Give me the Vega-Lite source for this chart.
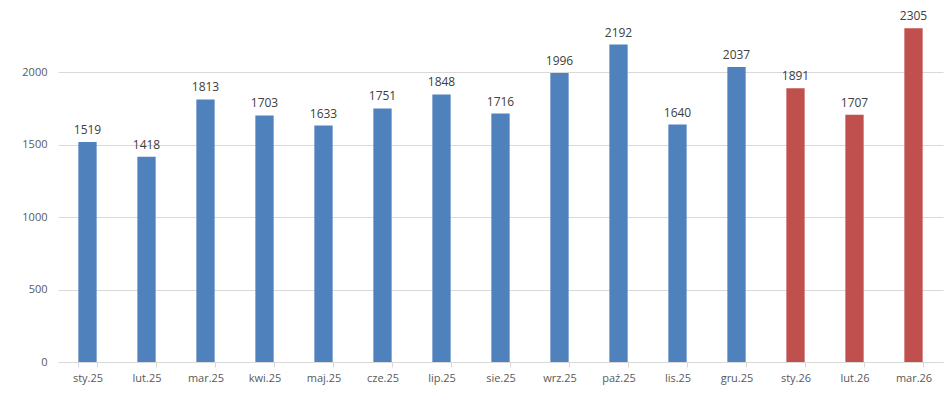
{
  "$schema": "https://vega.github.io/schema/vega-lite/v6.json",
  "width": 885,
  "height": 362,
  "autosize": "none",
  "padding": {"left": 58, "top": 0, "right": 5, "bottom": 40},
  "background": "#ffffff",
  "config": {
    "view": {"stroke": null},
    "font": "Open Sans"
  },
  "data": {
    "values": [
      {"Miesiac": "sty.25", "Rok": "2025", "Wartosc": 1519},
      {"Miesiac": "lut.25", "Rok": "2025", "Wartosc": 1418},
      {"Miesiac": "mar.25", "Rok": "2025", "Wartosc": 1813},
      {"Miesiac": "kwi.25", "Rok": "2025", "Wartosc": 1703},
      {"Miesiac": "maj.25", "Rok": "2025", "Wartosc": 1633},
      {"Miesiac": "cze.25", "Rok": "2025", "Wartosc": 1751},
      {"Miesiac": "lip.25", "Rok": "2025", "Wartosc": 1848},
      {"Miesiac": "sie.25", "Rok": "2025", "Wartosc": 1716},
      {"Miesiac": "wrz.25", "Rok": "2025", "Wartosc": 1996},
      {"Miesiac": "paź.25", "Rok": "2025", "Wartosc": 2192},
      {"Miesiac": "lis.25", "Rok": "2025", "Wartosc": 1640},
      {"Miesiac": "gru.25", "Rok": "2025", "Wartosc": 2037},
      {"Miesiac": "sty.26", "Rok": "2026", "Wartosc": 1891},
      {"Miesiac": "lut.26", "Rok": "2026", "Wartosc": 1707},
      {"Miesiac": "mar.26", "Rok": "2026", "Wartosc": 2305}
    ]
  },
  "encoding": {
    "x": {
      "field": "Miesiac",
      "type": "nominal",
      "sort": null,
      "title": null,
      "scale": {"paddingInner": 0.69, "paddingOuter": 0.345},
      "axis": {
        "labelAngle": 0,
        "labelFontSize": 11,
        "labelColor": "#595959",
        "labelPadding": 5,
        "domainColor": "#d9d9d9",
        "tickColor": "#d9d9d9",
        "tickBand": "extent",
        "tickSize": 5
      }
    },
    "y": {
      "field": "Wartosc",
      "type": "quantitative",
      "title": null,
      "scale": {"domain": [0, 2500], "nice": false},
      "axis": {
        "values": [0, 500, 1000, 1500, 2000],
        "format": "d",
        "domain": false,
        "ticks": false,
        "labelFontSize": 11,
        "labelColor": "#595959",
        "labelPadding": 11,
        "gridColor": "#d9d9d9"
      }
    }
  },
  "layer": [
    {
      "mark": {"type": "bar"},
      "encoding": {
        "color": {
          "field": "Rok",
          "type": "nominal",
          "scale": {"domain": ["2025", "2026"], "range": ["#4F81BD", "#C0504D"]},
          "legend": null
        }
      }
    },
    {
      "mark": {"type": "text", "baseline": "bottom", "dy": -5, "fontSize": 12, "color": "#404040"},
      "encoding": {
        "text": {"field": "Wartosc", "type": "quantitative"}
      }
    }
  ]
}
